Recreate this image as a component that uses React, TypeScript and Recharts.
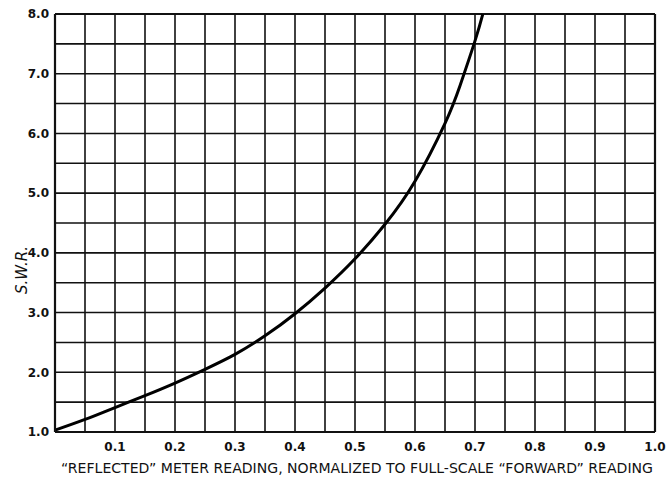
import React from 'react';
import { LineChart, Line, XAxis, YAxis, CartesianGrid, ReferenceLine, Label } from 'recharts';

const reflectedReading = [0, 0.05, 0.1, 0.15, 0.2, 0.25, 0.3, 0.35, 0.4, 0.45, 0.5, 0.55, 0.6, 0.65, 0.675, 0.7, 0.713];
const swrValues = [1.03, 1.21, 1.41, 1.61, 1.82, 2.05, 2.3, 2.61, 2.98, 3.41, 3.9, 4.48, 5.2, 6.17, 6.8, 7.55, 8.0];

const xTicks = [0, 0.05, 0.1, 0.15, 0.2, 0.25, 0.3, 0.35, 0.4, 0.45, 0.5, 0.55, 0.6, 0.65, 0.7, 0.75, 0.8, 0.85, 0.9, 0.95, 1.0];
const yTicks = [1, 1.5, 2, 2.5, 3, 3.5, 4, 4.5, 5, 5.5, 6, 6.5, 7, 7.5, 8];

const xLabel = '\u201CREFLECTED\u201D METER READING, NORMALIZED TO FULL-SCALE \u201CFORWARD\u201D READING';
const yLabel = 'S.W.R.';

const data = reflectedReading.map((x, i) => ({ x, swr: swrValues[i] }));

const FONT = '"DejaVu Sans", sans-serif';

const fmtX = (v: number) => {
  const n = Math.round(v * 100);
  if (n === 0 || n % 10 !== 0) return '';
  return (n / 100).toFixed(1);
};
const fmtY = (v: number) => {
  const n = Math.round(v * 10);
  if (n % 10 !== 0) return '';
  return (n / 10).toFixed(1);
};

const XLabelContent = (props: any) => {
  const vb = props.viewBox || {};
  const cx = vb.x + vb.width / 2;
  return (
    <text x={cx + 2} y={473} textAnchor="middle" fontFamily={FONT} fontSize={14} fill="#111"
      textLength={592} lengthAdjust="spacingAndGlyphs">{xLabel}</text>
  );
};

const YLabelContent = () => {
  return (
    <text x={0} y={0} transform="translate(27,270) rotate(-90)" textAnchor="middle" fontFamily={FONT}
      fontSize={15} fontStyle="italic" fill="#111">{yLabel}</text>
  );
};

export default function App() {
  return (
    <div style={{ position: 'absolute', left: 0, top: 0, background: '#fff' }}>
      <LineChart width={668} height={480} data={data} margin={{ top: 14, right: 13, bottom: 0, left: 0 }}>
        <CartesianGrid stroke="#111" strokeWidth={1.6} />
        <XAxis dataKey="x" type="number" domain={[0, 1]} ticks={xTicks} interval={0}
          tickFormatter={fmtX} tickLine={false} axisLine={{ stroke: '#111', strokeWidth: 2.2 }}
          tick={{ fill: '#111', fontSize: 12, fontFamily: FONT, fontWeight: 'bold' }} tickMargin={4} height={48}>
          <Label content={<XLabelContent />} />
        </XAxis>
        <YAxis type="number" domain={[1, 8]} ticks={yTicks} interval={0} tickFormatter={fmtY}
          tickLine={false} axisLine={{ stroke: '#111', strokeWidth: 2.2 }} width={55}
          tick={{ fill: '#111', fontSize: 12, fontFamily: FONT, fontWeight: 'bold' }} tickMargin={0}>
          <Label content={<YLabelContent />} />
        </YAxis>
        <ReferenceLine y={8} stroke="#111" strokeWidth={2.2} />
        <ReferenceLine x={1} stroke="#111" strokeWidth={2.2} />
        <Line type="natural" dataKey="swr" stroke="#000" strokeWidth={3} dot={false} isAnimationActive={false} />
      </LineChart>
    </div>
  );
}
